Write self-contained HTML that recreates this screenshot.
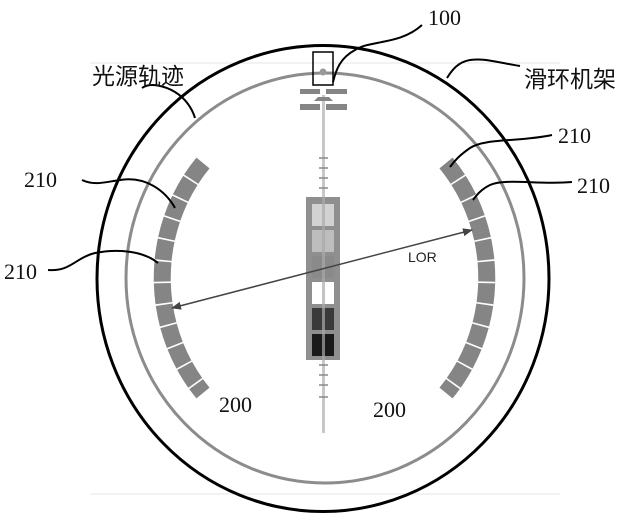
<!DOCTYPE html>
<html><head><meta charset="utf-8"><style>
html,body{margin:0;padding:0;background:#fff;}
svg{display:block;}
.s{font-family:"Liberation Serif",serif;font-size:22px;fill:#111;}
.c{font-family:"Liberation Sans","Noto Sans CJK SC",sans-serif;font-size:23px;fill:#111;}
</style></head><body>
<svg width="627" height="519" viewBox="0 0 627 519" xmlns="http://www.w3.org/2000/svg">
<defs>
<marker id="ah" markerWidth="10" markerHeight="8" refX="9" refY="4" orient="auto-start-reverse" markerUnits="userSpaceOnUse">
<path d="M0,0 L10,4 L0,8 z" fill="#444"/></marker>
</defs>
<line x1="90" y1="63" x2="560" y2="63" stroke="#e6e6e6" stroke-width="1"/>
<line x1="90" y1="494" x2="560" y2="494" stroke="#e6e6e6" stroke-width="1"/>
<ellipse cx="323" cy="278.5" rx="226" ry="233" fill="none" stroke="#000" stroke-width="3"/>
<ellipse cx="325" cy="278" rx="199" ry="205" fill="none" stroke="#8c8c8c" stroke-width="3"/>
<!-- detector arcs -->
<path d="M446,163 A165.5,175 0 0 1 446,393" fill="none" stroke="#858585" stroke-width="17" stroke-dasharray="20 1.6"/>
<path d="M203,163 A165.5,175 0 0 0 203,393" fill="none" stroke="#858585" stroke-width="17" stroke-dasharray="20 1.6"/>
<!-- central column -->
<rect x="322" y="95" width="3" height="338" fill="#c8c8c8"/>
<rect x="313" y="52" width="20" height="33" fill="none" stroke="#000" stroke-width="1.5"/>
<circle cx="323" cy="72" r="3.5" fill="#999"/>
<rect x="300" y="89" width="20" height="5" fill="#858585"/>
<rect x="326" y="89" width="21" height="5" fill="#858585"/>
<path d="M314,101 L318,97 L329,97 L333,101 z" fill="#858585"/>
<rect x="300" y="104" width="20" height="6" fill="#858585"/>
<rect x="326" y="104" width="21" height="6" fill="#858585"/>
<g stroke="#888" stroke-width="1.5">
<line x1="319" y1="158" x2="328" y2="158"/><line x1="319" y1="168" x2="328" y2="168"/>
<line x1="319" y1="178" x2="328" y2="178"/><line x1="319" y1="188" x2="328" y2="188"/>
<line x1="319" y1="365" x2="328" y2="365"/><line x1="319" y1="375" x2="328" y2="375"/>
<line x1="319" y1="385" x2="328" y2="385"/><line x1="319" y1="397" x2="328" y2="397"/>
</g>
<rect x="306" y="197" width="34" height="163" fill="#8f8f8f"/>
<rect x="312" y="204" width="22" height="22" fill="#d2d2d2"/>
<rect x="312" y="230" width="22" height="22" fill="#bdbdbd"/>
<rect x="312" y="256" width="22" height="22" fill="#8a8a8a"/>
<rect x="312" y="282" width="22" height="22" fill="#fff"/>
<rect x="312" y="308" width="22" height="22" fill="#3a3a3a"/>
<rect x="312" y="334" width="22" height="22" fill="#1a1a1a"/>
<rect x="322" y="197" width="3" height="163" fill="#aaa" opacity="0.7"/>
<!-- LOR -->
<line x1="172" y1="308" x2="472" y2="230" stroke="#444" stroke-width="1.5" marker-start="url(#ah)" marker-end="url(#ah)"/>
<text x="408" y="262" font-family="Liberation Sans,sans-serif" font-size="14" fill="#222">LOR</text>
<!-- leader lines -->
<g fill="none" stroke="#000" stroke-width="2">
<path d="M422,25 C400,45 370,40 355,50 C340,58 336,70 333,82"/>
<path d="M520,66 C495,62 485,58 470,60 C458,62 452,70 447,78"/>
<path d="M142,88 C150,82 165,86 175,92 C185,98 192,108 195,118"/>
<path d="M552,135 C520,142 485,138 470,148 C460,155 455,160 450,167"/>
<path d="M572,182 C540,185 505,178 490,185 C480,190 476,196 473,200"/>
<path d="M82,180 C95,186 105,182 120,180 C145,176 165,190 175,208"/>
<path d="M48,270 C70,272 75,258 95,253 C120,248 145,252 158,263"/>
</g>
<!-- labels -->
<text class="s" x="428" y="25">100</text>
<text class="c" x="524" y="87">滑环机架</text>
<text class="c" x="92" y="84">光源轨迹</text>
<text class="s" x="558" y="143">210</text>
<text class="s" x="577" y="193">210</text>
<text class="s" x="24" y="187">210</text>
<text class="s" x="4" y="279">210</text>
<text class="s" x="219" y="412">200</text>
<text class="s" x="373" y="417">200</text>
</svg>
</body></html>
